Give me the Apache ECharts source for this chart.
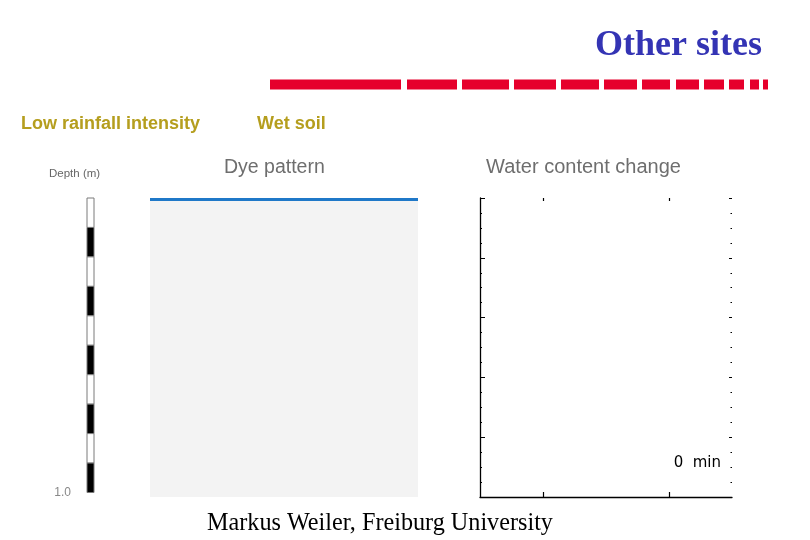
<!DOCTYPE html>
<html>
<head>
<meta charset="utf-8">
<script src="https://cdn.jsdelivr.net/npm/echarts@6/dist/echarts.min.js"></script>
<style>
html,body{margin:0;padding:0;background:#fff;}
#chart{width:810px;height:540px;}
</style>
</head>
<body>
<div id="chart"></div>
<script>
// ---- data ----
// decorative title rule: segment start / end (in rule units)
const ruleSegStart = [270, 407, 462, 514, 561, 604, 642, 676, 704, 729, 750, 763];
const ruleSegEnd   = [401, 457, 509, 556, 599, 637, 670, 699, 724, 744, 759, 768];
// depth scale bar (m): segment top / bottom depth and fill (1 = black)
const depthSegTop    = [0.0, 0.1, 0.2, 0.3, 0.4, 0.5, 0.6, 0.7, 0.8, 0.9];
const depthSegBottom = [0.1, 0.2, 0.3, 0.4, 0.5, 0.6, 0.7, 0.8, 0.9, 1.0];
const depthSegFilled = [0, 1, 0, 1, 0, 1, 0, 1, 0, 1];
// dye pattern: wetting front depth (m) across profile width (0..1)
const dyeFrontX     = [0, 1];
const dyeFrontDepth = [0, 0];
// water content change axis
const waterTickValues = [0, 0.1];
const timeLabel = '0  min';

// ---- chart ----
const chart = echarts.init(document.getElementById('chart'), null, {renderer: 'canvas'});

const hiddenAxis = (extra) => Object.assign({
  type: 'value', show: false, splitLine: {show: false}
}, extra);

const option = {
  backgroundColor: '#ffffff',
  animation: false,
  grid: [
    {left: 270, top: 79.5, width: 498, height: 10},            // 0 rule
    {left: 87, top: 198, width: 7, height: 294.5},             // 1 depth bar
    {left: 150, top: 199.5, width: 268, height: 297.5, show: true,
     backgroundColor: '#f3f3f3', borderWidth: 0},              // 2 dye pattern
    {left: 480, top: 198, width: 252, height: 299}             // 3 water content
  ],
  xAxis: [
    hiddenAxis({gridIndex: 0, min: 270, max: 768}),
    hiddenAxis({gridIndex: 1, min: 0, max: 1}),
    hiddenAxis({gridIndex: 2, min: 0, max: 1}),
    {
      gridIndex: 3, type: 'value', min: -0.05, max: 0.15, position: 'bottom',
      axisLine: {show: true, onZero: false, lineStyle: {color: '#000', width: 1.3}},
      axisTick: {show: true, inside: true, length: 5, customValues: waterTickValues,
                 lineStyle: {color: '#000', width: 1.2}},
      axisLabel: {show: false},
      splitLine: {show: false}
    },
    {
      gridIndex: 3, type: 'value', min: -0.05, max: 0.15, position: 'top',
      axisLine: {show: false, onZero: false},
      axisTick: {show: true, inside: true, length: 3, customValues: waterTickValues,
                 lineStyle: {color: '#000', width: 1.2}},
      axisLabel: {show: false},
      splitLine: {show: false}
    }
  ],
  yAxis: [
    hiddenAxis({gridIndex: 0, min: 0, max: 1}),
    {
      gridIndex: 1, type: 'value', min: 0, max: 1, interval: 1, inverse: true,
      axisLine: {show: false, onZero: false}, axisTick: {show: false}, splitLine: {show: false},
      axisLabel: {
        show: true, margin: 16, color: '#888',
        fontFamily: 'Liberation Sans', fontSize: 12,
        formatter: v => (v === 1 ? '1.0' : '')
      }
    },
    hiddenAxis({gridIndex: 2, min: 0, max: 1, inverse: true}),
    {
      gridIndex: 3, type: 'value', min: 0, max: 1, interval: 0.2, inverse: true, position: 'left',
      axisLine: {show: true, onZero: false, lineStyle: {color: '#000', width: 1.3}},
      axisTick: {show: true, inside: true, length: 5, lineStyle: {color: '#000', width: 1}},
      minorTick: {show: true, splitNumber: 4, length: 2, lineStyle: {color: '#000', width: 1}},
      axisLabel: {show: false},
      splitLine: {show: false}, minorSplitLine: {show: false}
    },
    {
      gridIndex: 3, type: 'value', min: 0, max: 1, interval: 0.2, inverse: true, position: 'right',
      axisLine: {show: false, onZero: false},
      axisTick: {show: true, inside: true, length: 3, lineStyle: {color: '#000', width: 1}},
      minorTick: {show: true, splitNumber: 4, length: 1.5, lineStyle: {color: '#000', width: 1}},
      axisLabel: {show: false},
      splitLine: {show: false}, minorSplitLine: {show: false}
    }
  ],
  series: [
    {
      type: 'custom', xAxisIndex: 0, yAxisIndex: 0, silent: true,
      data: ruleSegStart.map((s, i) => [s, ruleSegEnd[i]]),
      encode: {x: [0, 1]},
      renderItem: (params, api) => {
        const a = api.coord([api.value(0), 1]);
        const b = api.coord([api.value(1), 0]);
        return {
          type: 'rect',
          shape: {x: a[0], y: a[1], width: b[0] - a[0], height: b[1] - a[1]},
          style: {fill: '#e6002c'}
        };
      }
    },
    {
      type: 'custom', xAxisIndex: 1, yAxisIndex: 1, silent: true,
      data: depthSegTop.map((t, i) => [t, depthSegBottom[i], depthSegFilled[i]]),
      encode: {y: [0, 1]},
      renderItem: (params, api) => {
        const a = api.coord([0, api.value(0)]);
        const b = api.coord([1, api.value(1)]);
        return {
          type: 'rect',
          shape: {x: a[0], y: a[1], width: b[0] - a[0], height: b[1] - a[1]},
          style: {fill: api.value(2) ? '#000000' : '#ffffff', stroke: '#7a7a7a', lineWidth: 1}
        };
      }
    },
    {
      type: 'line', xAxisIndex: 2, yAxisIndex: 2, silent: true,
      data: dyeFrontX.map((x, i) => [x, dyeFrontDepth[i]]),
      symbol: 'none', clip: false,
      lineStyle: {color: '#1f78c8', width: 3}
    },
    {
      type: 'line', xAxisIndex: 3, yAxisIndex: 3, silent: true,
      data: [], symbol: 'none'
    }
  ],
  graphic: [
    {type: 'text', silent: true, style: {
      text: 'Other sites', x: 762, y: 46, textAlign: 'right', textVerticalAlign: 'middle',
      font: 'bold 36px "Liberation Serif"', fill: '#3434b4',
      shadowColor: 'rgba(150,150,190,0.8)', shadowOffsetX: 2, shadowOffsetY: 2, shadowBlur: 1}},
    {type: 'text', silent: true, style: {
      text: 'Low rainfall intensity', x: 21, y: 124, textAlign: 'left', textVerticalAlign: 'middle',
      font: 'bold 18px "Liberation Sans"', fill: '#b59e1e'}},
    {type: 'text', silent: true, style: {
      text: 'Wet soil', x: 257, y: 124, textAlign: 'left', textVerticalAlign: 'middle',
      font: 'bold 18px "Liberation Sans"', fill: '#b59e1e'}},
    {type: 'text', silent: true, style: {
      text: 'Depth (m)', x: 49, y: 174, textAlign: 'left', textVerticalAlign: 'middle',
      font: '11.5px "Liberation Sans"', fill: '#666'}},
    {type: 'text', silent: true, style: {
      text: 'Dye pattern', x: 224, y: 167.5, textAlign: 'left', textVerticalAlign: 'middle',
      font: '19.5px "Liberation Sans"', fill: '#6e6e6e'}},
    {type: 'text', silent: true, style: {
      text: 'Water content change', x: 486, y: 167.5, textAlign: 'left', textVerticalAlign: 'middle',
      font: '20px "Liberation Sans"', fill: '#6e6e6e'}},
    {type: 'text', silent: true, style: {
      text: timeLabel, x: 721, y: 463.5, textAlign: 'right', textVerticalAlign: 'middle',
      font: '15px "DejaVu Sans"', fill: '#000'}},
    {type: 'text', silent: true, style: {
      text: 'Markus Weiler, Freiburg University', x: 207, y: 524, textAlign: 'left', textVerticalAlign: 'middle',
      font: '24.2px "Liberation Serif"', fill: '#000'}}
  ]
};
chart.setOption(option);
</script>
</body>
</html>
